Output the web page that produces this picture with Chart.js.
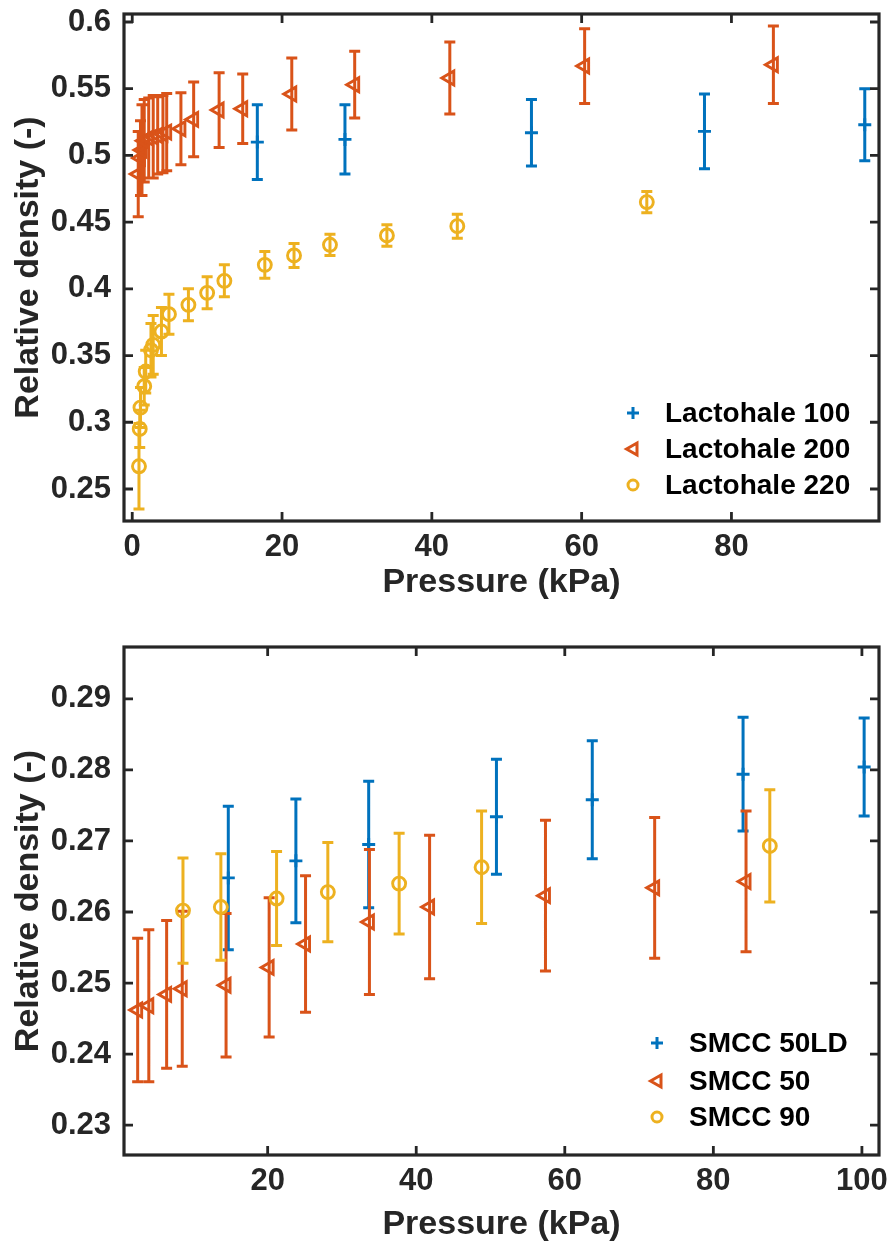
<!DOCTYPE html>
<html>
<head>
<meta charset="utf-8">
<script src="https://cdn.jsdelivr.net/npm/chart.js@4.4.1/dist/chart.umd.min.js"></script>
<style>
  html, body { margin: 0; padding: 0; background: #fff; }
  .box { position: absolute; left: 0; width: 891px; height: 623px; }
  #top { top: 0; }
  #bot { top: 624px; }
</style>
</head>
<body>
<div class="box" id="top"><canvas id="c1" width="891" height="623"></canvas></div>
<div class="box" id="bot"><canvas id="c2" width="891" height="623"></canvas></div>
<script>
// ---- top panel: Lactohale grades ----
const l100P = [16.7, 28.4, 53.3, 76.4, 97.8];
const l100D = [0.510, 0.512, 0.517, 0.518, 0.523];
const l100E = [0.028, 0.026, 0.025, 0.028, 0.027];

const l200P = [0.8, 1.1, 1.3, 1.6, 2.2, 2.8, 3.4, 4.1, 4.6, 6.5, 8.2, 11.6, 14.75, 21.3, 29.7, 42.4, 60.4, 85.6];
const l200D = [0.486, 0.498, 0.504, 0.511, 0.513, 0.514, 0.515, 0.516, 0.5175, 0.520, 0.527, 0.534, 0.535, 0.546, 0.553, 0.558, 0.567, 0.568];
const l200E = [0.032, 0.028, 0.034, 0.031, 0.030, 0.031, 0.029, 0.029, 0.029, 0.027, 0.028, 0.028, 0.026, 0.027, 0.025, 0.027, 0.028, 0.029];

const l220P = [0.9, 1.0, 1.1, 1.6, 1.8, 2.5, 2.8, 3.9, 4.9, 7.5, 10.0, 12.3, 17.7, 21.6, 26.4, 34.0, 43.4, 68.7];
const l220D = [0.267, 0.295, 0.311, 0.327, 0.338, 0.354, 0.358, 0.368, 0.381, 0.388, 0.397, 0.406, 0.418, 0.425, 0.433, 0.440, 0.447, 0.465];
const l220E = [0.032, 0.014, 0.015, 0.014, 0.016, 0.020, 0.022, 0.018, 0.015, 0.012, 0.012, 0.012, 0.010, 0.009, 0.008, 0.008, 0.009, 0.008];

const topXTicks = [0, 20, 40, 60, 80];
const topYTicks = [0.25, 0.3, 0.35, 0.4, 0.45, 0.5, 0.55, 0.6];

// ---- bottom panel: SMCC grades ----
const s50ldP = [14.7, 23.8, 33.6, 50.8, 63.7, 84.0, 100.3];
const s50ldD = [0.2648, 0.2672, 0.2695, 0.2734, 0.2758, 0.2794, 0.2804];
const s50ldE = [0.0101, 0.0087, 0.0089, 0.0081, 0.0083, 0.0080, 0.0069];

const s50P = [2.5, 4.0, 6.4, 8.5, 14.4, 20.2, 25.1, 33.7, 41.8, 57.4, 72.1, 84.4];
const s50D = [0.2462, 0.2468, 0.2484, 0.2492, 0.2497, 0.2522, 0.2555, 0.2586, 0.2607, 0.2623, 0.2634, 0.2643];
const s50E = [0.0101, 0.0107, 0.0104, 0.0109, 0.0101, 0.0098, 0.0096, 0.0102, 0.0101, 0.0106, 0.0099, 0.0099];

const s90P = [8.6, 13.7, 21.2, 28.1, 37.7, 48.8, 87.6];
const s90D = [0.2602, 0.2607, 0.2619, 0.2628, 0.2640, 0.2663, 0.2693];
const s90E = [0.0074, 0.0075, 0.0066, 0.0070, 0.0071, 0.0079, 0.0079];

const botXTicks = [20, 40, 60, 80, 100];
const botYTicks = [0.23, 0.24, 0.25, 0.26, 0.27, 0.28, 0.29];

const BLUE = '#0072BD', ORANGE = '#D95319', YELLOW = '#EDB120';
const FONT = '"Liberation Sans", Arial, Helvetica, sans-serif';
const AXIS = '#262626';

function pts(P, D) { return P.map((p, i) => ({ x: p, y: D[i] })); }

function series(label, P, D, E, color, style) {
  return {
    label: label,
    data: pts(P, D),
    err: E,
    borderColor: color,
    backgroundColor: 'rgba(0,0,0,0)',
    pointStyle: style,
    pointRotation: style === 'triangle' ? -90 : 0,
    pointRadius: style === 'triangle' ? 8 : 6.5,
    pointBorderWidth: 2.9,
    pointBackgroundColor: 'rgba(0,0,0,0)',
    pointBorderColor: color,
    showLine: false,
    clip: false
  };
}

// error bars drawn right before each dataset's markers
const errorBars = {
  id: 'errorBars',
  beforeDatasetDraw(chart, args) {
    const ds = chart.data.datasets[args.index];
    if (!ds.err) return;
    const ctx = chart.ctx, x = chart.scales.x, y = chart.scales.y;
    ctx.save();
    ctx.strokeStyle = ds.borderColor;
    ctx.lineWidth = 3;
    ctx.beginPath();
    ds.data.forEach((p, i) => {
      const px = x.getPixelForValue(p.x);
      const t = y.getPixelForValue(p.y + ds.err[i]);
      const b = y.getPixelForValue(p.y - ds.err[i]);
      ctx.moveTo(px, t); ctx.lineTo(px, b);
      ctx.moveTo(px - 5.5, t); ctx.lineTo(px + 5.5, t);
      ctx.moveTo(px - 5.5, b); ctx.lineTo(px + 5.5, b);
    });
    ctx.stroke();
    ctx.restore();
  }
};

// box with inward ticks on all four sides
const frame = {
  id: 'frame',
  afterDatasetsDraw(chart) {
    const ctx = chart.ctx, a = chart.chartArea, x = chart.scales.x, y = chart.scales.y;
    ctx.save();
    ctx.strokeStyle = AXIS;
    ctx.lineWidth = 3.2;
    ctx.strokeRect(a.left, a.top, a.right - a.left, a.bottom - a.top);
    ctx.lineWidth = 2.8;
    ctx.beginPath();
    x.ticks.forEach(t => {
      const px = x.getPixelForValue(t.value);
      ctx.moveTo(px, a.bottom); ctx.lineTo(px, a.bottom - 9);
      ctx.moveTo(px, a.top); ctx.lineTo(px, a.top + 9);
    });
    y.ticks.forEach(t => {
      const py = y.getPixelForValue(t.value);
      ctx.moveTo(a.left, py); ctx.lineTo(a.left + 9, py);
      ctx.moveTo(a.right, py); ctx.lineTo(a.right - 9, py);
    });
    ctx.stroke();
    ctx.restore();
  }
};

function marker(ctx, style, x, y) {
  ctx.beginPath();
  if (style === 'cross') {
    ctx.moveTo(x - 6, y); ctx.lineTo(x + 6, y);
    ctx.moveTo(x, y - 6); ctx.lineTo(x, y + 6);
  } else if (style === 'triangle') {
    ctx.moveTo(x - 6.5, y);
    ctx.lineTo(x + 4, y - 6);
    ctx.lineTo(x + 4, y + 6);
    ctx.closePath();
  } else {
    ctx.arc(x, y, 5, 0, Math.PI * 2);
  }
  ctx.stroke();
}

// legend inside the lower right corner, no box
const insideLegend = {
  id: 'insideLegend',
  afterDraw(chart, args, opts) {
    const ctx = chart.ctx, a = chart.chartArea;
    ctx.save();
    ctx.font = 'bold 28px ' + FONT;
    ctx.textBaseline = 'middle';
    ctx.textAlign = 'left';
    chart.data.datasets.forEach((ds, i) => {
      const yy = a.bottom - opts.rows[i];
      ctx.strokeStyle = ds.borderColor;
      ctx.lineWidth = 3;
      marker(ctx, ds.pointStyle, a.right - opts.markX, yy);
      ctx.fillStyle = '#000';
      ctx.fillText(ds.label, a.right - opts.textX, yy + 1);
    });
    ctx.restore();
  }
};

function makeChart(id, datasets, xr, yr, xt, yt, pad, xh, titlePad, legend) {
  return new Chart(document.getElementById(id), {
    type: 'scatter',
    data: { datasets: datasets },
    plugins: [errorBars, frame, insideLegend],
    options: {
      responsive: false,
      animation: false,
      devicePixelRatio: 1,
      layout: { padding: pad },
      plugins: {
        legend: { display: false },
        tooltip: { enabled: false },
        insideLegend: legend
      },
      scales: {
        x: {
          type: 'linear',
          min: xr[0], max: xr[1],
          afterBuildTicks: s => { s.ticks = xt.map(v => ({ value: v })); },
          afterFit: s => { s.height = xh; s.paddingLeft = 0; s.paddingRight = 0; },
          grid: { display: false, drawTicks: false },
          border: { display: false },
          ticks: {
            padding: 8, maxRotation: 0, color: AXIS,
            font: { family: FONT, size: 31, weight: 'bold' },
            callback: v => String(v)
          },
          title: {
            display: true, text: 'Pressure (kPa)', color: AXIS,
            font: { family: FONT, size: 34, weight: 'bold' },
            padding: { top: 0, bottom: titlePad }
          }
        },
        y: {
          type: 'linear',
          min: yr[0], max: yr[1],
          afterBuildTicks: s => { s.ticks = yt.map(v => ({ value: v })); },
          afterFit: s => { s.width = 124; s.paddingTop = 0; s.paddingBottom = 0; },
          grid: { display: false, drawTicks: false },
          border: { display: false },
          ticks: {
            padding: 13, color: AXIS,
            font: { family: FONT, size: 31, weight: 'bold' },
            callback: v => String(v)
          },
          title: {
            display: true, text: 'Relative density (-)', color: AXIS,
            font: { family: FONT, size: 34, weight: 'bold' },
            padding: { top: 8, bottom: 0 }
          }
        }
      }
    }
  });
}

const topSets = [
  series('Lactohale 100', l100P, l100D, l100E, BLUE, 'cross'),
  series('Lactohale 200', l200P, l200D, l200E, ORANGE, 'triangle'),
  series('Lactohale 220', l220P, l220D, l220E, YELLOW, 'circle')
];
topSets[0].order = 3; topSets[1].order = 2; topSets[2].order = 1;

const botSets = [
  series('SMCC 50LD', s50ldP, s50ldD, s50ldE, BLUE, 'cross'),
  series('SMCC 50', s50P, s50D, s50E, ORANGE, 'triangle'),
  series('SMCC 90', s90P, s90D, s90E, YELLOW, 'circle')
];
botSets[0].order = 3; botSets[1].order = 2; botSets[2].order = 1;

makeChart('c1', topSets, [-1.1, 99.7], [0.226, 0.606], topXTicks, topYTicks,
  { top: 14, right: 12, left: 0, bottom: 0 }, 102, 20,
  { rows: [108, 72, 36], markX: 246, textX: 214 });

makeChart('c2', botSets, [0.66, 102.3], [0.2258, 0.2973], botXTicks, botYTicks,
  { top: 23, right: 12, left: 0, bottom: 0 }, 92, 2,
  { rows: [112, 74, 38], markX: 222, textX: 190 });
</script>
</body>
</html>
